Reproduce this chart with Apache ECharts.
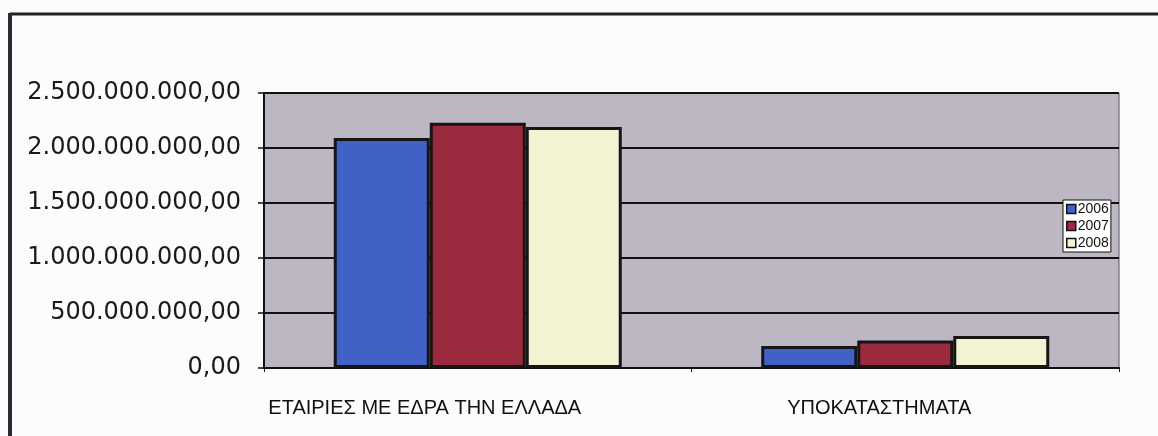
<!DOCTYPE html>
<html>
<head>
<meta charset="utf-8">
<script src="https://cdn.jsdelivr.net/npm/echarts@6/dist/echarts.min.js"></script>
<style>
  html, body { margin: 0; padding: 0; background: #fbfcfb; }
  #chart { width: 1158px; height: 436px; }
</style>
</head>
<body>
<div id="chart"></div>
<script>
// Categories and yearly totals (euro)
const categories = ['ΕΤΑΙΡΙΕΣ ΜΕ ΕΔΡΑ ΤΗΝ ΕΛΛΑΔΑ', 'ΥΠΟΚΑΤΑΣΤΗΜΑΤΑ'];
const years = ['2006', '2007', '2008'];
const values2006 = [2090000000, 200000000];
const values2007 = [2230000000, 250000000];
const values2008 = [2190000000, 290000000];
const yearColors = ['#4062c6', '#9b2a3e', '#f3f3d3'];

// Greek number format: 2.500.000.000,00
function formatGreek(v) {
  const parts = Math.round(v).toString().replace(/\B(?=(\d{3})+(?!\d))/g, '.');
  return parts + ',00';
}

const catFont = '"Liberation Sans", Arial, sans-serif';
const chart = echarts.init(document.getElementById('chart'));
const seriesData = [values2006, values2007, values2008];

chart.setOption({
  backgroundColor: '#fbfcfb',
  animation: false,
  grid: {
    left: 264, right: 39, top: 93, bottom: 68,
    show: true,
    backgroundColor: '#bdb6c3',
    borderColor: '#55525a',
    borderWidth: 1
  },
  legend: {
    orient: 'vertical',
    left: 1063,
    top: 200,
    data: years,
    itemWidth: 9,
    itemHeight: 9,
    itemGap: 3,
    padding: [2, 2, 2, 3],
    backgroundColor: '#ffffff',
    borderColor: '#111',
    borderWidth: 1,
    borderRadius: 0,
    icon: 'rect',
    itemStyle: { borderColor: '#111', borderWidth: 1.5 },
    textStyle: { fontFamily: catFont, fontSize: 14, color: '#111', padding: [0, 0, 0, -3] }
  },
  xAxis: {
    type: 'category',
    data: categories,
    axisLine: { lineStyle: { color: '#111', width: 2 } },
    axisTick: { show: true, length: 4, lineStyle: { color: '#111', width: 1 } },
    axisLabel: {
      interval: 0,
      margin: 30,
      color: '#111',
      fontFamily: catFont,
      fontSize: 20,
      formatter: (v, i) => '{c' + i + '|' + v + '}',
      rich: {
        c0: { fontFamily: catFont, fontSize: 20, color: '#111', padding: [0, 106, 0, 0] },
        c1: { fontFamily: catFont, fontSize: 20, color: '#111', padding: [0, 52, 0, 0] }
      }
    }
  },
  yAxis: {
    type: 'value',
    min: 0,
    max: 2500000000,
    interval: 500000000,
    axisLine: { show: true, lineStyle: { color: '#111', width: 2 } },
    axisTick: { show: true, length: 6, lineStyle: { color: '#111', width: 1.5 } },
    splitLine: { show: true, lineStyle: { color: '#111', width: 2 } },
    axisLabel: {
      margin: 23,
      color: '#1a1a1a',
      fontFamily: '"DejaVu Sans", Verdana, sans-serif',
      fontSize: 24,
      formatter: formatGreek
    }
  },
  series: years.map((y, k) => ({
    name: y,
    type: 'bar',
    data: seriesData[k],
    barWidth: 96,
    barGap: '0%',
    itemStyle: {
      color: yearColors[k],
      borderColor: '#151515',
      borderWidth: 3
    }
  })),
  graphic: [
    // page frame lines along top and left edges
    { type: 'line', shape: { x1: 10, y1: 14, x2: 1170, y2: 14 }, style: { stroke: '#222', lineWidth: 3 } },
    { type: 'line', shape: { x1: 10, y1: 13, x2: 10, y2: 436 }, style: { stroke: '#2a2a35', lineWidth: 4 } }
  ]
});
</script>
</body>
</html>
